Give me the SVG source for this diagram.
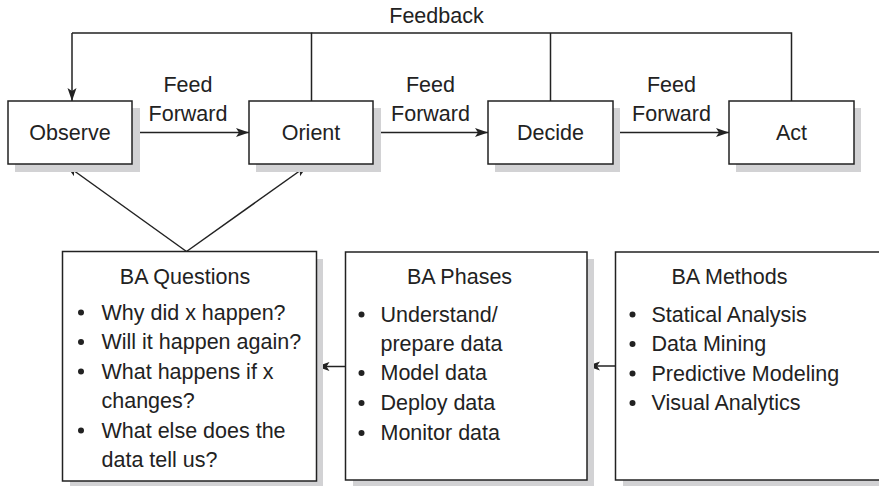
<svg xmlns="http://www.w3.org/2000/svg" width="879" height="486" viewBox="0 0 879 486">
<defs>
<marker id="ah" markerUnits="userSpaceOnUse" markerWidth="14" markerHeight="10" refX="13" refY="4.5" orient="auto">
<path d="M0,0 L13,4.5 L0,9 L3,4.5 z" fill="#222"/>
</marker>
</defs>
<style>
text{font-family:"Liberation Sans",Arial,sans-serif;font-size:21.5px;fill:#222}
.box{fill:#fff;stroke:#222;stroke-width:1.5}
.sh{fill:#d2d2d4}
.c{text-anchor:middle}
.ln{fill:none;stroke:#222;stroke-width:1.5}
.ar{fill:none;stroke:#222;stroke-width:1.5;marker-end:url(#ah)}
.b{fill:#222}
</style>
<rect width="879" height="486" fill="#fff"/>
<g id="connectors">
<polyline class="ln" points="311.5,101 311.5,33 72,33"/>
<line class="ln" x1="550.5" y1="101" x2="550.5" y2="33"/>
<polyline class="ln" points="791.5,101 791.5,33 311.5,33"/>
<line class="ar" x1="72" y1="33" x2="72" y2="101"/>
<line class="ar" x1="132" y1="132.5" x2="249" y2="132.5"/>
<line class="ar" x1="373" y1="132.5" x2="488" y2="132.5"/>
<line class="ar" x1="613" y1="132.5" x2="729" y2="132.5"/>
<line class="ar" x1="186.5" y1="251.5" x2="66" y2="165"/>
<line class="ar" x1="186.5" y1="251.5" x2="308" y2="165"/>
<line class="ar" x1="615.5" y1="366" x2="587" y2="366"/>
<line class="ar" x1="345.5" y1="366.5" x2="316.5" y2="366.5"/>
<text class="c" x="436.5" y="23">Feedback</text>
<text class="c" x="188" y="91.5">Feed</text>
<text class="c" x="188" y="120.5">Forward</text>
<text class="c" x="430.5" y="91.5">Feed</text>
<text class="c" x="430.5" y="120.5">Forward</text>
<text class="c" x="671.5" y="91.5">Feed</text>
<text class="c" x="671.5" y="120.5">Forward</text>
</g>
<g id="observe">
<rect class="sh" x="15" y="108" width="125" height="64"/>
<rect class="box" x="8" y="101" width="124" height="63"/>
<text class="c" x="70" y="139.5">Observe</text>
</g>
<g id="orient">
<rect class="sh" x="256" y="108" width="125" height="64"/>
<rect class="box" x="249" y="101" width="124" height="63"/>
<text class="c" x="311" y="139.5">Orient</text>
</g>
<g id="decide">
<rect class="sh" x="495" y="108" width="125" height="64"/>
<rect class="box" x="488" y="101" width="125" height="63"/>
<text class="c" x="550.5" y="139.5">Decide</text>
</g>
<g id="act">
<rect class="sh" x="736" y="108" width="125" height="64"/>
<rect class="box" x="729" y="101" width="125" height="63"/>
<text class="c" x="791.5" y="139.5">Act</text>
</g>
<g id="ba-questions">
<rect class="sh" x="70" y="259" width="253" height="229"/>
<rect class="box" x="62.5" y="251.5" width="254" height="229.5"/>
<text class="c" x="185" y="284">BA Questions</text>
<circle class="b" cx="81" cy="312.5" r="3"/>
<text x="101.5" y="319.5">Why did x happen?</text>
<circle class="b" cx="81" cy="342" r="3"/>
<text x="101.5" y="349">Will it happen again?</text>
<circle class="b" cx="81" cy="371.5" r="3"/>
<text x="101.5" y="378.5">What happens if x</text>
<text x="101.5" y="408">changes?</text>
<circle class="b" cx="81" cy="430.5" r="3"/>
<text x="101.5" y="437.5">What else does the</text>
<text x="101.5" y="467">data tell us?</text>
</g>
<g id="ba-phases">
<rect class="sh" x="353" y="259" width="241" height="228"/>
<rect class="box" x="345.5" y="252" width="241.5" height="228"/>
<text class="c" x="459.5" y="283.5">BA Phases</text>
<circle class="b" cx="361.5" cy="314.5" r="3"/>
<text x="380.5" y="321.5">Understand/</text>
<text x="380.5" y="350.5">prepare data</text>
<circle class="b" cx="361.5" cy="373" r="3"/>
<text x="380.5" y="380">Model data</text>
<circle class="b" cx="361.5" cy="403" r="3"/>
<text x="380.5" y="410">Deploy data</text>
<circle class="b" cx="361.5" cy="433" r="3"/>
<text x="380.5" y="440">Monitor data</text>
</g>
<g id="ba-methods">
<rect class="sh" x="623" y="259" width="270" height="228"/>
<rect class="box" x="615.5" y="252" width="275" height="228"/>
<text class="c" x="729.5" y="283.5">BA Methods</text>
<circle class="b" cx="632.5" cy="314.5" r="3"/>
<text x="651.5" y="321.5">Statical Analysis</text>
<circle class="b" cx="632.5" cy="344" r="3"/>
<text x="651.5" y="351">Data Mining</text>
<circle class="b" cx="632.5" cy="373.5" r="3"/>
<text x="651.5" y="380.5">Predictive Modeling</text>
<circle class="b" cx="632.5" cy="403" r="3"/>
<text x="651.5" y="410">Visual Analytics</text>
</g>
</svg>
